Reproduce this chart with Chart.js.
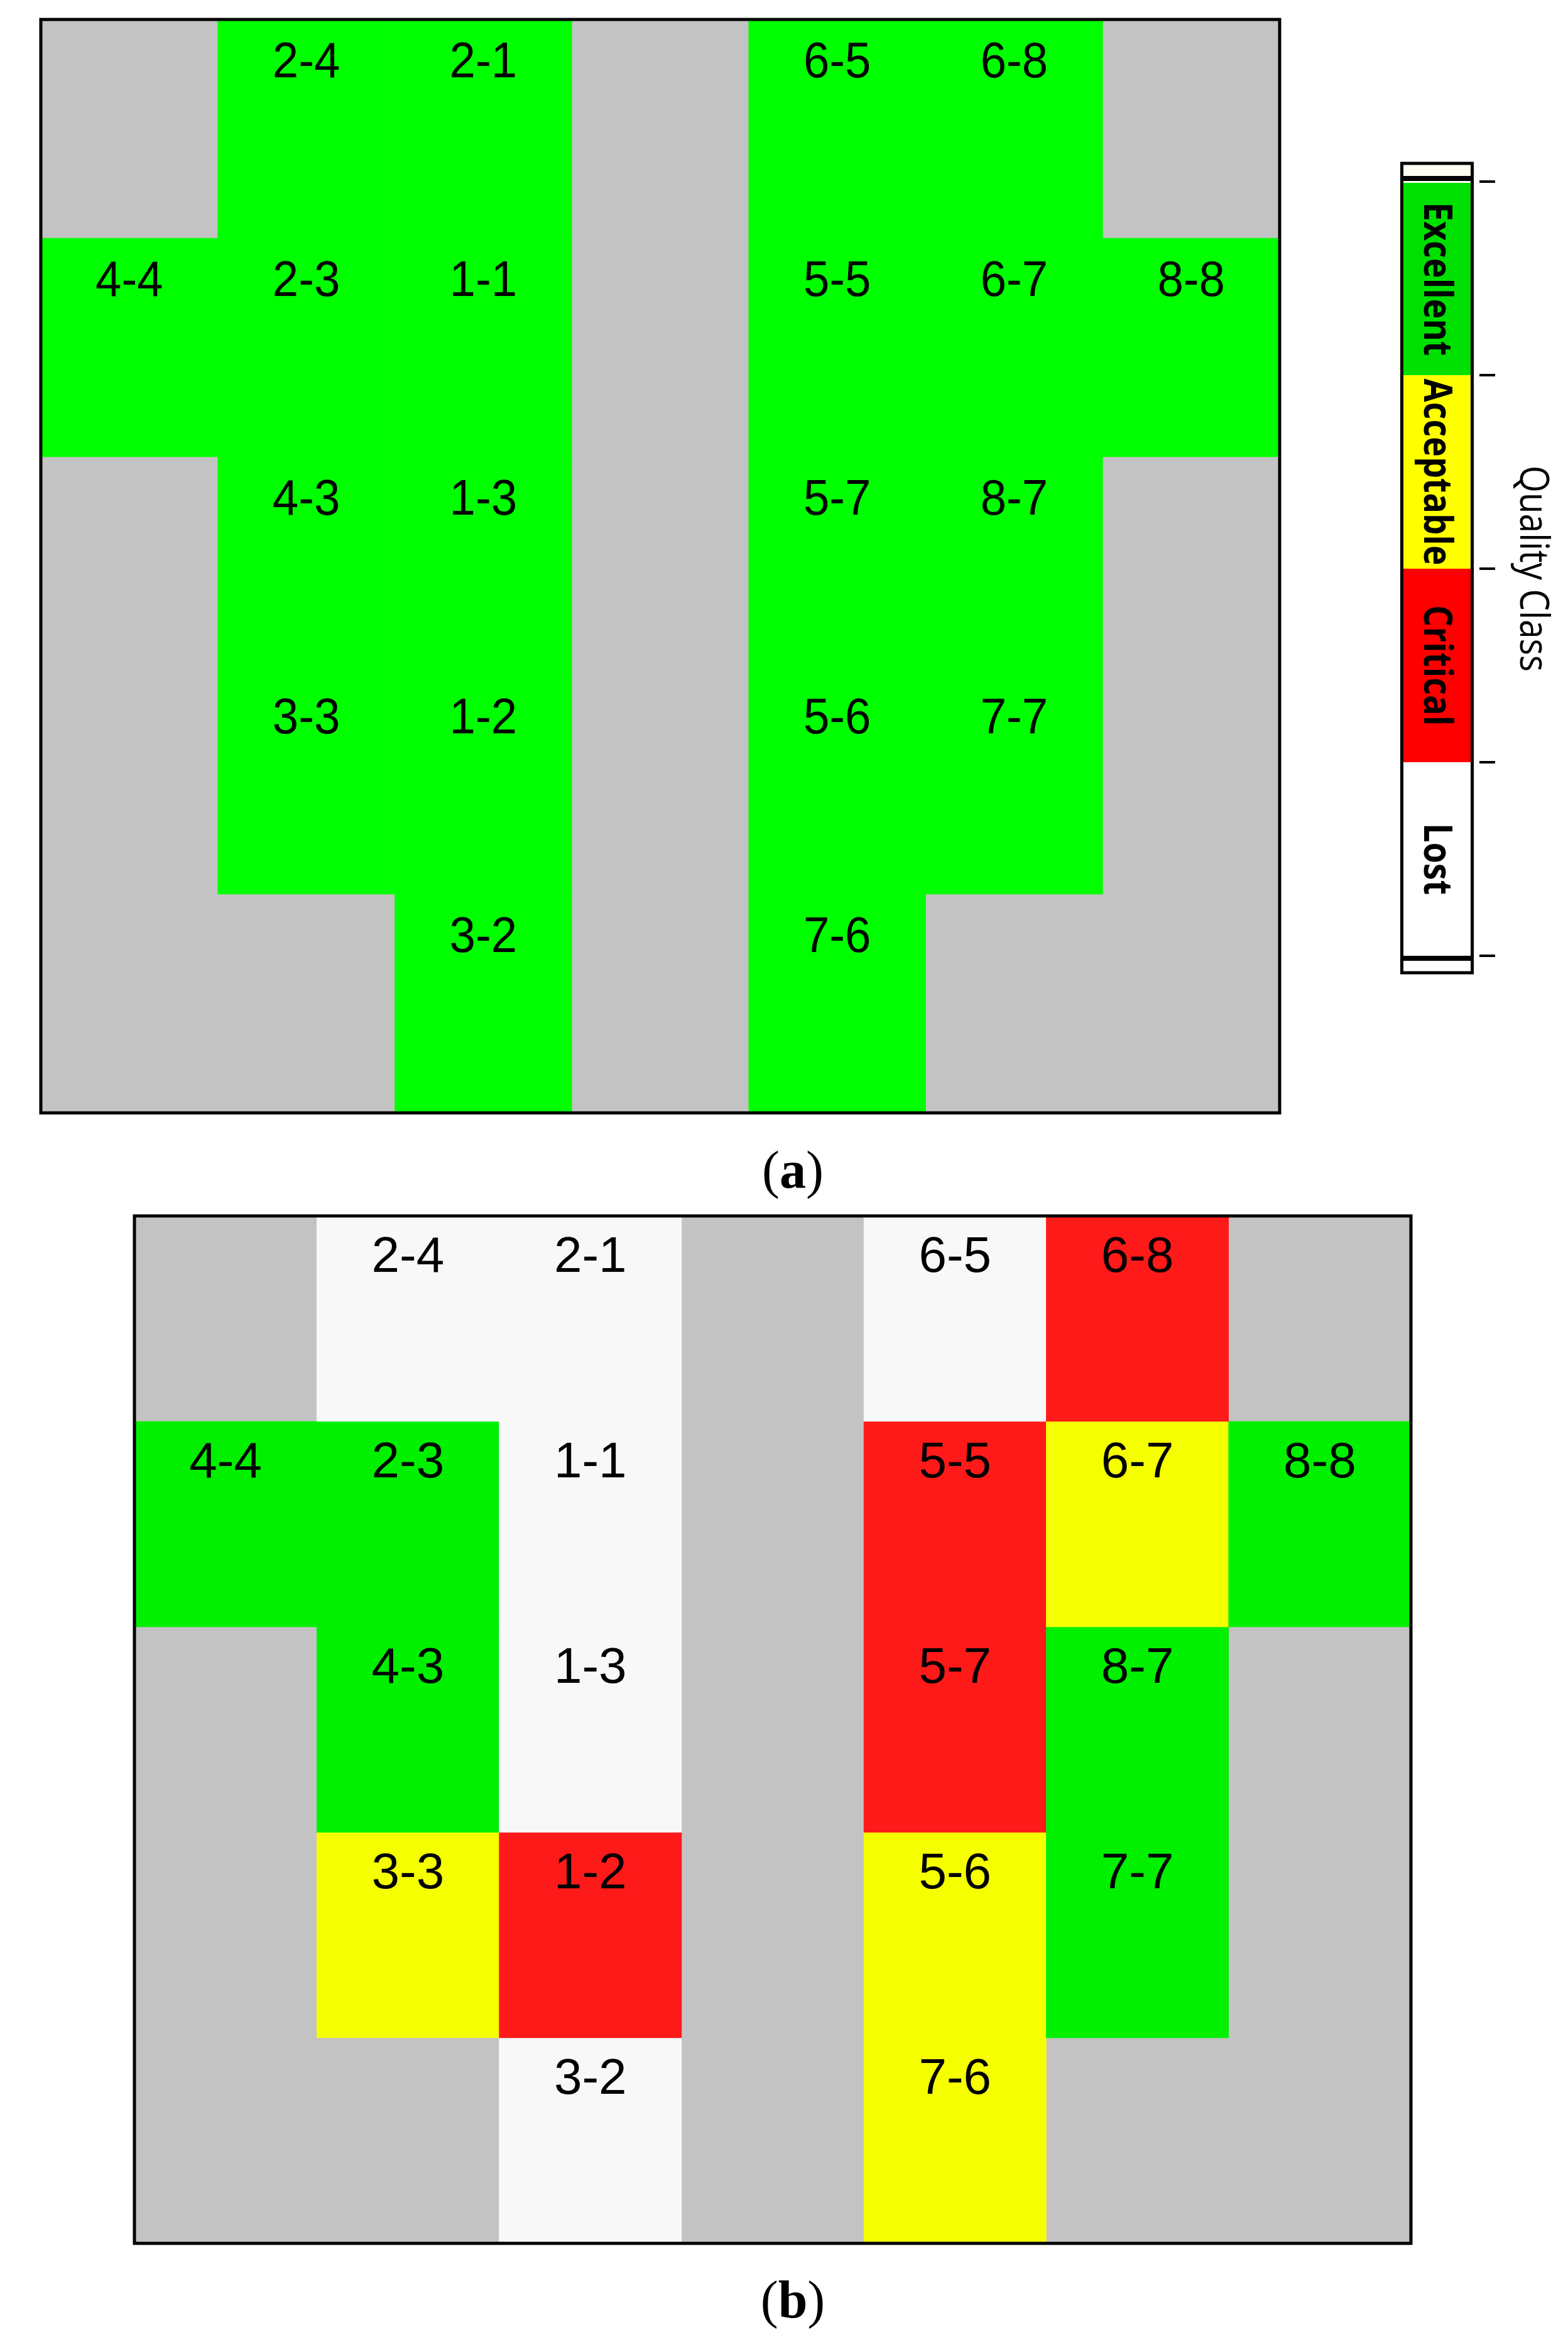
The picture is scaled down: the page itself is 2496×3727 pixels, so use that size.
<!DOCTYPE html>
<html>
<head>
<meta charset="utf-8">
<script src="https://cdn.jsdelivr.net/npm/chart.js@4.4.1/dist/chart.umd.min.js"></script>
<style>
  html, body { margin: 0; padding: 0; background: #fff; }
  body { width: 2496px; height: 3727px; position: relative; overflow: hidden; }
  canvas { position: absolute; }
  .cap { position: absolute; width: 200px; text-align: center; font-family: "Liberation Serif", "Times New Roman", serif; font-size: 84px; line-height: 1; color: #000; }
</style>
</head>
<body>
<canvas id="mapA" width="1980" height="1748" style="left:61px;top:27px"></canvas>
<canvas id="legendBar" width="296" height="1340" style="left:2200px;top:240px"></canvas>
<div class="cap" style="left:1162px;top:1820px">(<b>a</b>)</div>
<canvas id="mapB" width="2040" height="1643" style="left:210px;top:1931px"></canvas>
<div class="cap" style="left:1162px;top:3618px">(<b>b</b>)</div>

<script>
// columns of the field map (left to right)
const columnIds = ['c1', 'c2', 'c3', 'c4', 'c5', 'c6', 'c7'];

// plot names per row (top to bottom), '' = no plot
const cellLabels = [
    ['', '2-4', '2-1', '', '6-5', '6-8', ''],
    ['4-4', '2-3', '1-1', '', '5-5', '6-7', '8-8'],
    ['', '4-3', '1-3', '', '5-7', '8-7', ''],
    ['', '3-3', '1-2', '', '5-6', '7-7', ''],
    ['', '', '3-2', '', '7-6', '', '']
];

// quality class per cell: E excellent, A acceptable, C critical, L lost
const qualityA = [
    [null, 'E', 'E', null, 'E', 'E', null],
    ['E', 'E', 'E', null, 'E', 'E', 'E'],
    [null, 'E', 'E', null, 'E', 'E', null],
    [null, 'E', 'E', null, 'E', 'E', null],
    [null, null, 'E', null, 'E', null, null]
];
const qualityB = [
    [null, 'L', 'L', null, 'L', 'C', null],
    ['E', 'E', 'L', null, 'C', 'A', 'E'],
    [null, 'E', 'L', null, 'C', 'E', null],
    [null, 'A', 'C', null, 'A', 'E', null],
    [null, null, 'L', null, 'A', null, null]
];

// legend
const classCodes = ['E', 'A', 'C', 'L'];
const classNames = ['Excellent', 'Acceptable', 'Critical', 'Lost'];
const legendTitle = 'Quality Class';

// colours
const colorsA = {E: '#00ff00'};
const colorsB = {E: '#00f000', A: '#f6ff00', C: '#ff1a1a', L: '#f8f8f8'};
const legendColors = {E: '#00e000', A: '#ffff00', C: '#ff0000', L: '#ffffff'};
const emptyGray = '#c3c3c3';

// gray background + black frame
const panelFrame = {
    id: 'panelFrame',
    beforeDatasetsDraw(chart, args, opts) {
        const {ctx, chartArea: a} = chart;
        ctx.save();
        ctx.fillStyle = opts.fill;
        ctx.fillRect(a.left, a.top, a.width, a.height);
        ctx.restore();
    },
    afterDraw(chart, args, opts) {
        const {ctx, chartArea: a} = chart;
        ctx.save();
        ctx.strokeStyle = '#000';
        ctx.lineWidth = opts.lineWidth;
        ctx.strokeRect(a.left, a.top, a.width, a.height);
        ctx.restore();
    }
};

// plot names near the top of each cell
const cellText = {
    id: 'cellText',
    afterDatasetsDraw(chart, args, opts) {
        const {ctx} = chart;
        const y = chart.scales.y;
        ctx.save();
        ctx.font = opts.size + 'px "Liberation Sans", Arial, sans-serif';
        ctx.fillStyle = '#000';
        ctx.textAlign = 'center';
        ctx.textBaseline = 'alphabetic';
        chart.data.datasets.forEach((ds, r) => {
            chart.getDatasetMeta(r).data.forEach((bar, c) => {
                const txt = opts.labels[r][c];
                if (!txt || ds.data[c] == null) return;
                const top = y.getPixelForValue(r);
                const h = y.getPixelForValue(r + 1) - top;
                const base = top + h * opts.offset + opts.size * 0.358;
                ctx.save();
                ctx.translate(bar.x, base);
                ctx.scale(opts.squeeze, 1);
                ctx.fillText(txt, 0, 0);
                ctx.restore();
            });
        });
        ctx.restore();
    }
};

function rowDatasets(quality, colors) {
    return quality.map((row, r) => ({
        label: 'row ' + (r + 1),
        data: row.map(q => q ? [r, r + 1] : null),
        backgroundColor: row.map(q => q ? colors[q] : 'rgba(0,0,0,0)'),
        borderWidth: 0,
        grouped: false,
        categoryPercentage: 1,
        barPercentage: 1
    }));
}

function drawMap(id, quality, colors, squeeze, offset) {
    new Chart(document.getElementById(id), {
        type: 'bar',
        data: {labels: columnIds, datasets: rowDatasets(quality, colors)},
        options: {
            responsive: false,
            animation: false,
            layout: {padding: 4},
            scales: {
                x: {display: false},
                y: {type: 'linear', min: 0, max: 5, reverse: true, display: false}
            },
            plugins: {
                legend: {display: false},
                tooltip: {enabled: false},
                panelFrame: {fill: emptyGray, lineWidth: 5},
                cellText: {labels: cellLabels, size: 80, squeeze: squeeze, offset: offset}
            }
        },
        plugins: [panelFrame, cellText]
    });
}

// rotated names inside the colour bar + frame + title
const legendText = {
    id: 'legendText',
    afterDraw(chart, args, opts) {
        const {ctx, chartArea: a} = chart;
        const bar0 = chart.getDatasetMeta(0).data[0];
        const l = bar0.x - bar0.width / 2, w = bar0.width;
        ctx.save();
        // frame
        ctx.fillStyle = '#fffdf0';
        ctx.fillRect(l, a.top - 29, w, 29);
        ctx.fillStyle = '#fff';
        ctx.fillRect(l, a.bottom, w, 27);
        ctx.strokeStyle = '#000';
        ctx.lineWidth = 5;
        ctx.strokeRect(l, a.top - 29, w, a.height + 56);
        ctx.lineWidth = 8;
        ctx.beginPath();
        ctx.moveTo(l, a.top - 5); ctx.lineTo(l + w, a.top - 5);
        ctx.moveTo(l, a.bottom + 4); ctx.lineTo(l + w, a.bottom + 4);
        ctx.stroke();
        // class names (baseline left of bar centre, letters face right)
        ctx.fillStyle = '#000';
        ctx.textAlign = 'center';
        ctx.textBaseline = 'alphabetic';
        ctx.font = '700 62px "Open Sans", sans-serif';
        chart.data.datasets.forEach((ds, i) => {
            const bar = chart.getDatasetMeta(i).data[0];
            ctx.save();
            ctx.translate(bar.x - 21, (bar.y + bar.base) / 2);
            ctx.rotate(Math.PI / 2);
            ctx.scale(opts.stretch, 1);
            ctx.fillText(ds.label, 0, 0);
            ctx.restore();
        });
        // title
        ctx.font = '64px "Open Sans", sans-serif';
        ctx.translate(a.right + opts.titleGap, (a.top + a.bottom) / 2);
        ctx.rotate(Math.PI / 2);
        ctx.scale(opts.titleStretch, 1);
        ctx.fillText(legendTitle, 0, 0);
        ctx.restore();
    }
};

document.addEventListener('DOMContentLoaded', () => {
    drawMap('mapA', qualityA, colorsA, 0.93, 0.182);
    drawMap('mapB', qualityB, colorsB, 1, 0.184);

    new Chart(document.getElementById('legendBar'), {
        type: 'bar',
        data: {
            labels: ['quality'],
            datasets: classCodes.map((code, i) => ({
                label: classNames[i],
                data: [[i, i + 1]],
                backgroundColor: legendColors[code],
                borderWidth: 0,
                grouped: false,
                categoryPercentage: 1,
                barPercentage: 0.83
            }))
        },
        options: {
            responsive: false,
            animation: false,
            layout: {padding: {left: 20, right: 116, top: 49, bottom: 59}},
            scales: {
                x: {display: false},
                y: {
                    position: 'right', min: 0, max: 4, reverse: true,
                    ticks: {display: false, stepSize: 1},
                    grid: {drawOnChartArea: false, color: '#000', lineWidth: 4, tickLength: 25},
                    border: {display: false}
                }
            },
            plugins: {
                legend: {display: false},
                tooltip: {enabled: false},
                legendText: {stretch: 0.87, titleStretch: 0.86, titleGap: 65}
            }
        },
        plugins: [legendText]
    });
});
</script>
</body>
</html>
